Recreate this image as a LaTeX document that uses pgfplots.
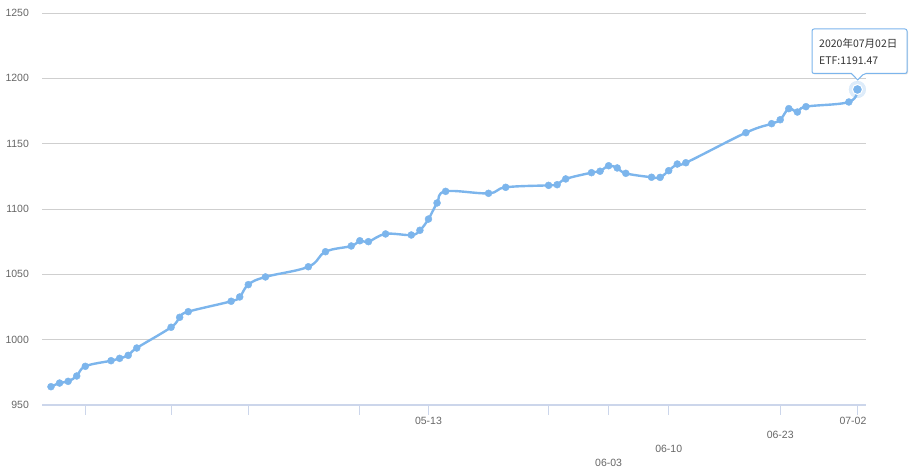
\documentclass[border=0pt]{standalone}
\usepackage{pgfplots}
\pgfplotsset{compat=1.18}
\usepackage{fontspec}
\setmainfont{Liberation Sans}
\newfontfamily\cjk{Noto Sans CJK SC}
\definecolor{linec}{HTML}{7CB5EC}
\definecolor{axisc}{HTML}{CCD6EB}
\definecolor{gridc}{HTML}{CFCFCF}
\definecolor{labc}{HTML}{666666}
\definecolor{tipt}{HTML}{333333}

% x = calendar day relative to 2020-05-13 (0)
\pgfplotstableread{
x y
-44 964.0
-43 966.8
-42 968.1
-41 972.2
-40 979.6
-37 983.9
-36 985.7
-35 988.0
-34 993.6
-30 1009.5
-29 1017.1
-28 1021.4
-23 1029.4
-22 1032.7
-21 1042.1
-19 1048.0
-14 1055.8
-12 1067.3
-9 1071.7
-8 1075.7
-7 1075.0
-5 1080.9
-2 1080.1
-1 1083.7
0 1092.3
1 1104.6
2 1113.5
7 1112.0
9 1116.6
14 1118.1
15 1118.6
16 1123.0
19 1127.8
20 1128.9
21 1133.1
22 1131.4
23 1127.3
26 1124.3
27 1124.2
28 1129.3
29 1134.4
30 1135.4
37 1158.4
40 1165.3
41 1168.3
42 1176.8
43 1174.2
44 1178.3
49 1181.9
50 1191.47
}\etfdata

\begin{document}
\begin{tikzpicture}[x=1bp,y=1bp]
\useasboundingbox (0,0) rectangle (910,474);
\begin{axis}[
  at={(42.4bp,69bp)}, anchor=south west,
  scale only axis, width=823.6bp, height=392bp,
  xmin=-45, xmax=51, ymin=950, ymax=1250,
  axis x line=bottom, axis y line=left,
  x axis line style={draw=axisc, line width=1.5bp, -},
  y axis line style={draw=none},
  ytick={950,1000,...,1250},
  ymajorgrids, grid style={draw=gridc, line width=0.8bp},
  y tick style={draw=none},
  xtick={-40,-30,-21,-8,0,14,21,28,41,50},
  xticklabels={,,,,05-13,,{\raisebox{-42bp}{06-03}},{\raisebox{-28bp}{06-10}},{\raisebox{-14bp}{06-23}},{\hspace*{-9bp}07-02}},
  x tick style={draw=axisc, line width=1bp},
  tick align=outside, major tick length=10bp,
  xticklabel style={anchor=base, yshift=-10bp, font=\fontsize{10.5bp}{12bp}\selectfont, text=labc},
  yticklabel style={font=\fontsize{10.5bp}{12bp}\selectfont, text=labc, anchor=east, xshift=0bp},
  /pgf/number format/1000 sep={},
  /pgf/number format/assume math mode=true,
  clip=false,
]
\addplot[draw=linec, line width=2.4bp, smooth, tension=0.65, mark=*, mark size=3.5bp,
  mark options={solid, fill=linec, draw=linec, line width=0.4bp}] table[x=x,y=y] {\etfdata};
\addplot[only marks, draw=linec, fill=linec, mark=*, mark size=8.5bp,
  mark options={fill=linec, draw=linec, line width=0.1bp, opacity=0.25}]
  coordinates {(50,1191.47)};
\addplot[only marks, draw=white, fill=linec, mark=*, mark size=5bp,
  mark options={fill=linec, draw=white, line width=1bp}]
  coordinates {(50,1191.47)};
\end{axis}
% tooltip
\fill[black!12, rounded corners=2bp] (813,399.5) -- (908,399.5) -- (908,444) -- (813,444) -- cycle;
\draw[draw=linec, line width=1bp, fill=white, rounded corners=2bp]
  (812,445) -- (907,445) -- (907,400.5) -- (864,400.5) [sharp corners] -- (857.7,394) -- (851.4,400.5) [rounded corners=2bp] -- (812,400.5) -- cycle;
\node[anchor=base west, inner sep=0, text=tipt, font=\cjk\fontsize{10.5bp}{12bp}\selectfont] at (819,426) {2020年07月02日};
\node[anchor=base west, inner sep=0, text=tipt, font=\cjk\fontsize{10.5bp}{12bp}\selectfont] at (819,409.5) {ETF:1191.47};
\end{tikzpicture}
\end{document}
